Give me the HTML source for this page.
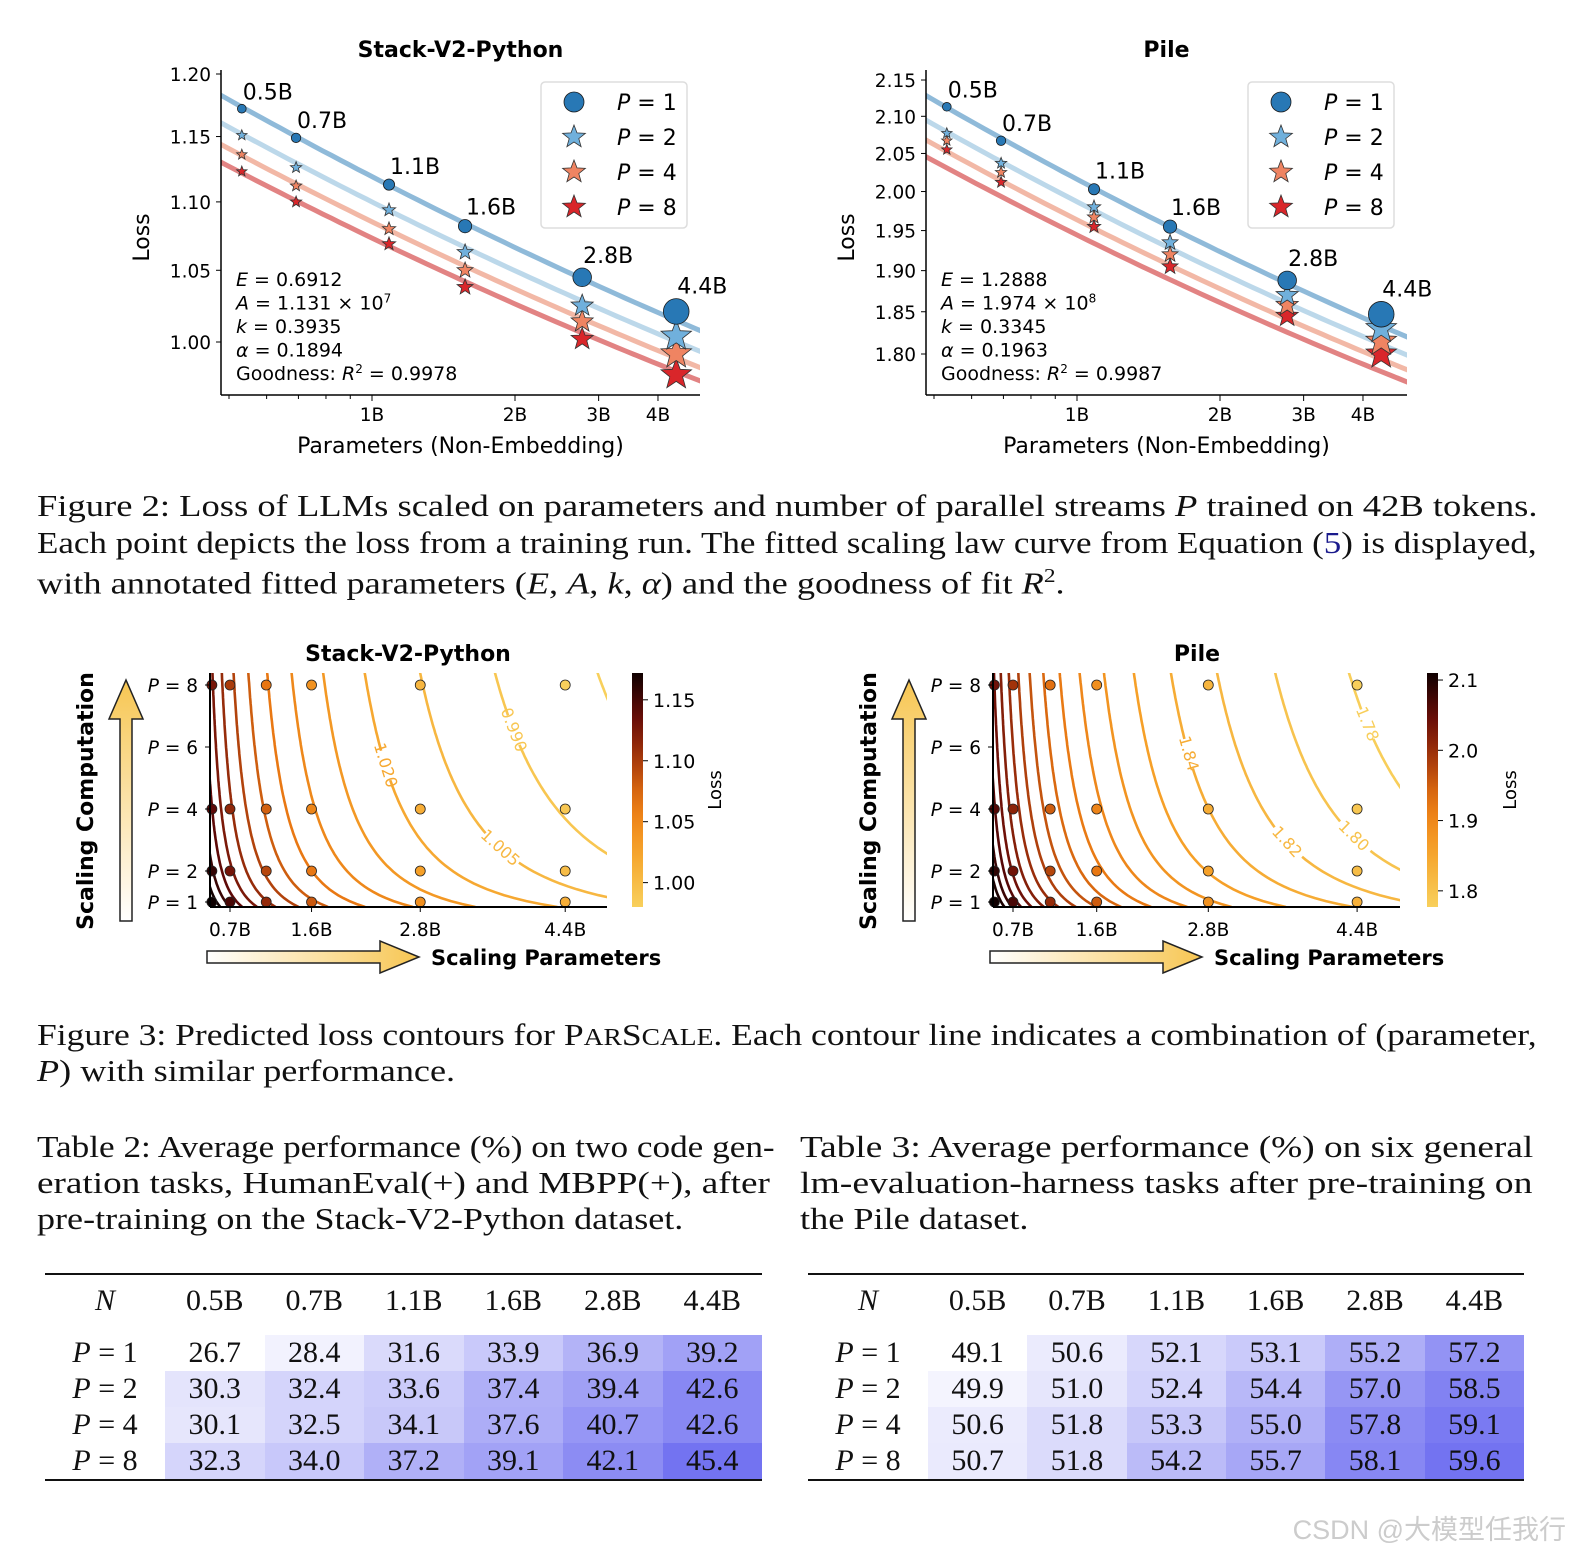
<!DOCTYPE html>
<html><head><meta charset="utf-8">
<style>
body{margin:0;background:#fff;width:1584px;height:1555px;overflow:hidden;position:relative;font-family:"Liberation Serif",serif;}
.cap{position:absolute;left:37px;font-size:31px;white-space:nowrap;transform-origin:0 0;color:#111;line-height:1;}
.cap i{font-style:italic}
table{position:absolute;border-collapse:collapse;font-family:"Liberation Serif",serif;font-size:30px;color:#111;}
td,th{height:36px;padding:0;text-align:center;font-weight:normal;}
th{height:52px}
svg text{font-family:"DejaVu Sans",sans-serif;}
.wm{position:absolute;right:18px;bottom:8px;font-family:"Liberation Sans","Noto Sans CJK SC",sans-serif;font-size:27px;color:#ccc;}
</style></head><body>
<svg id="svg" width="1584" height="1555" style="position:absolute;left:0;top:0"></svg>

<div class="cap fit" data-w="1500" style="top:490px">Figure 2: Loss of LLMs scaled on parameters and number of parallel streams <i>P</i> trained on 42B tokens.</div>
<div class="cap fit" data-w="1500" style="top:527px">Each point depicts the loss from a training run. The fitted scaling law curve from Equation (<span style="color:#1a1a8c">5</span>) is displayed,</div>
<div class="cap fit" data-w="1028" style="top:566px">with annotated fitted parameters (<i>E</i>, <i>A</i>, <i>k</i>, <i>α</i>) and the goodness of fit <i>R</i><sup style="font-size:20px">2</sup>.</div>

<div class="cap fit" data-w="1500" style="top:1019px">Figure 3: Predicted loss contours for P<span style="font-size:24px">AR</span>S<span style="font-size:24px">CALE</span>. Each contour line indicates a combination of (parameter,</div>
<div class="cap fit" data-w="418" style="top:1055px"><i>P</i>) with similar performance.</div>

<div class="cap fit" data-w="738" style="top:1131px">Table 2: Average performance (%) on two code gen-</div>
<div class="cap fit" data-w="733" style="top:1167px">eration tasks, HumanEval(+) and MBPP(+), after</div>
<div class="cap fit" data-w="646" style="top:1203px">pre-training on the Stack-V2-Python dataset.</div>
<div class="cap fit" data-w="733" style="top:1131px;left:800px">Table 3: Average performance (%) on six general</div>
<div class="cap fit" data-w="733" style="top:1167px;left:800px">lm-evaluation-harness tasks after pre-training on</div>
<div class="cap fit" data-w="228" style="top:1203px;left:800px">the Pile dataset.</div>

<table id="t2" style="left:45px;top:1273px;width:717px"></table>
<table id="t3" style="left:808px;top:1273px;width:716px"></table>

<div class="wm">CSDN @大模型任我行</div>

<script>
// ---------- data ----------
const sizeLabels = ["0.5B","0.7B","1.1B","1.6B","2.8B","4.4B"];
const paramsB = [0.532,0.692,1.086,1.57,2.77,4.37];
const pValues = [1,2,4,8];
const stackP1 = [1.172,1.149,1.113,1.082,1.045,1.021];
const stackP2 = [1.151,1.126,1.094,1.063,1.025,1.004];
const stackP4 = [1.136,1.112,1.080,1.050,1.014,0.992];
const stackP8 = [1.123,1.100,1.069,1.038,1.002,0.978];
const pileP1 = [2.113,2.067,2.003,1.955,1.888,1.847];
const pileP2 = [2.077,2.037,1.980,1.935,1.870,1.830];
const pileP4 = [2.067,2.025,1.967,1.920,1.858,1.815];
const pileP8 = [2.055,2.012,1.955,1.905,1.845,1.800];
const stackFit = {E:0.6912,A:1.131e7,k:0.3935,a:0.1894};
const pileFit = {E:1.2888,A:1.974e8,k:0.3345,a:0.1963};
const stackYTicks = [1.00,1.05,1.10,1.15,1.20];
const pileYTicks = [1.80,1.85,1.90,1.95,2.00,2.05,2.10,2.15];
const xTickVals = [1,2,3,4];
const xTickLabels = ["1B","2B","3B","4B"];
const contourN = [0.5,0.7,1.1,1.6,2.8,4.4];
const contourP = [1,2,4,8];
const contourXTicks = [0.7,1.6,2.8,4.4];
const contourXLabels = ["0.7B","1.6B","2.8B","4.4B"];
const stackLevels = [0.975,0.990,1.005,1.020,1.035,1.050,1.065,1.080,1.095,1.110,1.125,1.140,1.155,1.170];
const pileLevels = [1.78,1.80,1.82,1.84,1.86,1.88,1.90,1.92,1.94,1.96,1.98,2.00,2.02,2.04,2.06,2.08,2.10];
const stackCbTicks = [1.00,1.05,1.10,1.15];
const pileCbTicks = [1.8,1.9,2.0,2.1];
const t2Rows = [[26.7,28.4,31.6,33.9,36.9,39.2],[30.3,32.4,33.6,37.4,39.4,42.6],[30.1,32.5,34.1,37.6,40.7,42.6],[32.3,34.0,37.2,39.1,42.1,45.4]];
const t3Rows = [[49.1,50.6,52.1,53.1,55.2,57.2],[49.9,51.0,52.4,54.4,57.0,58.5],[50.6,51.8,53.3,55.0,57.8,59.1],[50.7,51.8,54.2,55.7,58.1,59.6]];

const NS="http://www.w3.org/2000/svg";
const svg=document.getElementById('svg');
function el(tag,attrs,parent){const e=document.createElementNS(NS,tag);for(const k in attrs)e.setAttribute(k,attrs[k]);(parent||svg).appendChild(e);return e;}
function txt(x,y,s,attrs,parent){const e=el('text',Object.assign({x:x,y:y},attrs||{}),parent);e.innerHTML=s;return e;}
function fitLoss(f,Nb,P){return Math.pow(f.A/(Nb*1e9*(f.k*Math.log(P)+1)),f.a)+f.E;}
function starPts(cx,cy,r){let p=[];for(let i=0;i<10;i++){const rr=i%2?r*0.42:r;const a=-Math.PI/2+i*Math.PI/5;p.push((cx+rr*Math.cos(a)).toFixed(1)+','+(cy+rr*Math.sin(a)).toFixed(1));}return p.join(' ');}

// ---------- scaling-law charts ----------
function lawChart(o){
  const g=el('g',{});
  
  
  const xs=v=>o.x1B+Math.log10(v)*475;
  const ys=v=>o.yBot-Math.log(v/o.yMin)*o.yk;
  const L=o.left,R=o.right,T=o.top,B=o.bottom;
  const clip=el('clipPath',{id:o.id+'clip'},g);el('rect',{x:L,y:T,width:R-L,height:B-T},clip);
  const lineCols=['#8fbad9','#bcd8ea','#f2b8a6','#e28383'];
  pValues.forEach((P,pi)=>{
    let d='';for(let i=0;i<=60;i++){const n=Math.pow(10,Math.log10(0.42)+i/60*(Math.log10(5.2)-Math.log10(0.42)));d+=(i?'L':'M')+xs(n).toFixed(1)+','+ys(fitLoss(o.fit,n,P)).toFixed(1);}
    const p=el('path',{d:d,stroke:lineCols[pi],'stroke-width':5,fill:'none','clip-path':'url(#'+o.id+'clip)'},g);
    
    
  });
  el('line',{x1:L,y1:T,x2:L,y2:B,stroke:'#000','stroke-width':1.5},g);
  el('line',{x1:L,y1:B,x2:R,y2:B,stroke:'#000','stroke-width':1.5},g);
  o.yTicks.forEach(v=>{const y=ys(v);el('line',{x1:L-5,y1:y,x2:L,y2:y,stroke:'#000'},g);
    const t=txt(L-10,y+7,v.toFixed(2),{'text-anchor':'end','font-size':18.5},g);
    
    });
  [0.5,0.6,0.7,0.8,0.9].forEach(v=>{const x=xs(v);if(x>L)el('line',{x1:x,y1:B,x2:x,y2:B+4,stroke:'#000'},g);});
  xTickVals.forEach((v,i)=>{const x=xs(v);el('line',{x1:x,y1:B,x2:x,y2:B+6,stroke:'#000'},g);
    const t=txt(x,B+26,xTickLabels[i],{'text-anchor':'middle','font-size':18.5},g);
    
    });
  const xl=txt((L+R)/2,B+58,'Parameters (Non-Embedding)',{'text-anchor':'middle','font-size':22},g);
  
  
  const yl=txt(0,0,'Loss',{'text-anchor':'middle','font-size':22,transform:'translate('+(L-72)+','+((T+B)/2+5)+') rotate(-90)'},g);
  
  
  const ti=txt((L+R)/2,57,o.title,{'text-anchor':'middle','font-size':22,'font-weight':'bold'},g);
  
  
  const series=[o.d1,o.d2,o.d4,o.d8];const cols=['#2878b5','#70b0dc','#ef8462','#d9262a'];
  [3,2,1,0].forEach(si=>{
    series[si].forEach((v,i)=>{const x=xs(paramsB[i]),y=ys(v),r=3.2+2.2*paramsB[i];
      let m;
      if(si===0)m=el('circle',{cx:x,cy:y,r:r,fill:cols[0],stroke:'#1a1a1a','stroke-width':0.8},g);
      else m=el('polygon',{points:starPts(x,y,r*1.25),fill:cols[si],stroke:'#333','stroke-width':0.8},g);
      
      
    });
  });
  function r2(n){return 3.2+2.2*n;}
  o.d1.forEach((v,i)=>{const x=xs(paramsB[i]),y=ys(v);
    const t=txt(x+1,y-r2(paramsB[i])-5,sizeLabels[i],{'font-size':22},g);
    
    });
  const lg=el('g',{},g);
  
  
  el('rect',{x:o.legX,y:82,width:146,height:146,rx:4,fill:'#fff',stroke:'#ddd','stroke-width':1.5},lg);
  pValues.forEach((P,i)=>{const y=102+i*35;
    if(i===0)el('circle',{cx:o.legX+33,cy:y,r:10,fill:cols[0],stroke:'#1a1a1a','stroke-width':0.8},lg);
    else el('polygon',{points:starPts(o.legX+33,y,12),fill:cols[i],stroke:'#333','stroke-width':0.8},lg);
    const t=txt(o.legX+76,y+8,'<tspan font-style="italic">P</tspan> = '+P,{'font-size':22},lg);
    
    });
  const pt=el('g',{'font-size':19},g);
  
  
  o.ptext.forEach((s,i)=>txt(L+15,286+i*23.5,s,{},pt));
}
lawChart({name:'stack-scaling-chart',id:'s1',title:'Stack-V2-Python',left:221,right:700,top:70,bottom:395,x1B:372,yBot:342,yMin:1.0,yk:1470,yTicks:stackYTicks,fit:stackFit,d1:stackP1,d2:stackP2,d4:stackP4,d8:stackP8,legX:541,
 ptext:['<tspan font-style="italic">E</tspan> = 0.6912','<tspan font-style="italic">A</tspan> = 1.131 × 10<tspan dy="-7" font-size="12">7</tspan>','<tspan font-style="italic">k</tspan> = 0.3935','<tspan font-style="italic">α</tspan> = 0.1894','Goodness: <tspan font-style="italic">R</tspan><tspan dy="-7" font-size="12">2</tspan><tspan dy="7"> = 0.9978</tspan>']});
lawChart({name:'pile-scaling-chart',id:'s2',title:'Pile',left:926,right:1407,top:70,bottom:395,x1B:1077,yBot:354,yMin:1.8,yk:1542,yTicks:pileYTicks,fit:pileFit,d1:pileP1,d2:pileP2,d4:pileP4,d8:pileP8,legX:1248,
 ptext:['<tspan font-style="italic">E</tspan> = 1.2888','<tspan font-style="italic">A</tspan> = 1.974 × 10<tspan dy="-7" font-size="12">8</tspan>','<tspan font-style="italic">k</tspan> = 0.3345','<tspan font-style="italic">α</tspan> = 0.1963','Goodness: <tspan font-style="italic">R</tspan><tspan dy="-7" font-size="12">2</tspan><tspan dy="7"> = 0.9987</tspan>']});

// ---------- contour charts ----------
const cstops=[[0,[248,208,92]],[0.25,[246,160,40]],[0.45,[232,118,18]],[0.65,[160,50,10]],[0.82,[100,10,8]],[1,[15,0,0]]];
function cmap(t){t=Math.max(0,Math.min(1,t));for(let i=1;i<cstops.length;i++){if(t<=cstops[i][0]){const a=cstops[i-1],b=cstops[i],u=(t-a[0])/(b[0]-a[0]);return 'rgb('+a[1].map((c,j)=>Math.round(c+(b[1][j]-c)*u)).join(',')+')';}}return 'rgb(15,0,0)';}
function contourChart(o){
  const g=el('g',{});
  
  
  const L=o.left,R=o.right,T=673,B=907;
  const xs=n=>o.x07+(n-0.7)*o.pxB;
  const ys=P=>902-(P-1)*31;
  const vmin=o.vmin,vmax=o.vmax;
  const clip=el('clipPath',{id:o.id+'clip'},g);el('rect',{x:L,y:T,width:R-L,height:B-T},clip);
  const cg=el('g',{'clip-path':'url(#'+o.id+'clip)'},g);
  const f=o.fit;
  o.levels.forEach(c=>{
    let d='';let pts=[];
    for(let i=0;i<=80;i++){const P=0.84+i/80*(8.45-0.84);const N=f.A/(Math.pow(c-f.E,1/f.a)*(f.k*Math.log(P)+1))/1e9;pts.push([xs(N),ys(P)]);}
    const lab=o.labels[c.toFixed(3)];
    let gapA=-1,gapB=-1;
    if(lab){gapA=lab[0]-5;gapB=lab[0]+5;}
    let pen=false;
    pts.forEach((p,i)=>{if(i>gapA&&i<gapB){pen=false;return;}d+=(pen?'L':'M')+p[0].toFixed(1)+','+p[1].toFixed(1);pen=true;});
    const col=cmap((c-vmin)/(vmax-vmin));
    const p=el('path',{d:d,stroke:col,'stroke-width':2.6,fill:'none'},cg);
    
    
    if(lab){const i=lab[0];const a=pts[i-2],b=pts[i+2];let ang=Math.atan2(b[1]-a[1],b[0]-a[0])*180/Math.PI;if(ang<-90)ang+=180;if(ang>90)ang-=180;
      const t=txt(0,0,lab[1],{'text-anchor':'middle','font-size':16,fill:col,transform:'translate('+pts[i][0].toFixed(1)+','+pts[i][1].toFixed(1)+') rotate('+ang.toFixed(1)+') translate(0,5)'},g);
      
      }
  });
  contourP.forEach(P=>contourN.forEach(N=>{const v=fitLoss(f,N,P);
    const d=el('circle',{cx:xs(N),cy:ys(P),r:5,fill:cmap((v-vmin)/(vmax-vmin)),stroke:'#222','stroke-width':0.8},g);
    
    }));
  el('line',{x1:L,y1:T,x2:L,y2:B,stroke:'#000','stroke-width':2},g);
  el('line',{x1:L,y1:B,x2:R,y2:B,stroke:'#000','stroke-width':2},g);
  contourP.concat([6]).forEach(P=>{const y=ys(P);el('line',{x1:L-5,y1:y,x2:L,y2:y,stroke:'#000'},g);
    const t=txt(L-12,y+7,'<tspan font-style="italic">P</tspan> = '+P,{'text-anchor':'end','font-size':18.5},g);
    
    });
  contourXTicks.forEach((n,i)=>{const x=xs(n);el('line',{x1:x,y1:B,x2:x,y2:B+5,stroke:'#000'},g);
    const t=txt(x,B+29,contourXLabels[i],{'text-anchor':'middle','font-size':18.5},g);
    
    });
  const ti=txt(o.titleX,661,o.title,{'text-anchor':'middle','font-size':22,'font-weight':'bold'},g);
  
  
  const gid=o.id+'cb';const lgd=el('linearGradient',{id:gid,x1:0,y1:1,x2:0,y2:0},g);
  for(let i=0;i<=10;i++)el('stop',{offset:i/10,'stop-color':cmap(i/10)},lgd);
  const cb=el('rect',{x:o.cbX,y:T,width:11,height:B-T,fill:'url(#'+gid+')'},g);
  
  
  const cy=v=>B-(v-vmin)/(vmax-vmin)*(B-T);
  o.cbTicks.forEach(v=>{const y=cy(v);el('line',{x1:o.cbX+11,y1:y,x2:o.cbX+16,y2:y,stroke:'#000'},g);
    const t=txt(o.cbX+21,y+7,v.toFixed(o.cbDec),{'font-size':19},g);
    
    });
  const cl=txt(0,0,'Loss',{'text-anchor':'middle','font-size':18,transform:'translate('+(o.cbX+89)+',790) rotate(-90)'},g);
  
  
  const ag=o.id+'ag',ah=o.id+'ah';
  const g1=el('linearGradient',{id:ag,x1:0,y1:1,x2:0,y2:0},g);el('stop',{offset:0,'stop-color':'#fff'},g1);el('stop',{offset:1,'stop-color':'#f7c652'},g1);
  const g2=el('linearGradient',{id:ah,x1:0,y1:0,x2:1,y2:0},g);el('stop',{offset:0,'stop-color':'#fff'},g2);el('stop',{offset:1,'stop-color':'#f7c652'},g2);
  const ax=o.arrowX;
  const va=el('polygon',{points:[[ax-6,921],[ax+6,921],[ax+6,719],[ax+17,719],[ax,680],[ax-17,719],[ax-6,719]].join(' '),fill:'url(#'+ag+')',stroke:'#222','stroke-width':1.5},g);
  
  
  const vt=txt(0,0,'Scaling Computation',{'text-anchor':'middle','font-size':22,'font-weight':'bold',transform:'translate('+(ax-33)+',801) rotate(-90)'},g);
  
  
  const hx=o.hArrowX;
  const ha=el('polygon',{points:[[hx,951],[hx+173,951],[hx+173,941],[hx+212,957],[hx+173,973],[hx+173,963],[hx,963]].join(' '),fill:'url(#'+ah+')',stroke:'#222','stroke-width':1.5},g);
  
  
  const ht=txt(hx+224,965,'Scaling Parameters',{'font-size':21,'font-weight':'bold'},g);
  
  
}
contourChart({name:'stack-contour-chart',id:'c1',title:'Stack-V2-Python',titleX:408,left:210,right:607,x07:230,pxB:90.6,fit:stackFit,levels:stackLevels,vmin:0.98,vmax:1.172,cbTicks:stackCbTicks,cbDec:2,cbX:632,arrowX:126,hArrowX:207,
 labels:{'1.020':[48,'1.020'],'0.990':[60,'0.990'],'1.005':[20,'1.005']}});
contourChart({name:'pile-contour-chart',id:'c2',title:'Pile',titleX:1197,left:993,right:1400,x07:1013,pxB:93,fit:pileFit,levels:pileLevels,vmin:1.777,vmax:2.11,cbTicks:pileCbTicks,cbDec:1,cbX:1427,arrowX:909,hArrowX:990,
 labels:{'1.840':[52,'1.84'],'1.820':[22,'1.82'],'1.800':[24,'1.80'],'1.780':[62,'1.78']}});

// ---------- tables ----------
function buildTable(id,rows){
  const t=document.getElementById(id);
  let all=rows.flat(),mn=Math.min(...all),mx=Math.max(...all);
  let h='<tr style="border-top:2.5px solid #111;border-bottom:2px solid #111"><th style="width:120px"><i>N</i></th>'+sizeLabels.map(s=>'<th>'+s+'</th>').join('')+'</tr>';
  rows.forEach((r,ri)=>{
    h+='<tr'+(ri===rows.length-1?' style="border-bottom:2.5px solid #111"':'')+'><td><i>P</i> = '+pValues[ri]+'</td>'+r.map(v=>{const u=(v-mn)/(mx-mn);const c=[255-u*140,255-u*140,255-u*14].map(Math.round);
      return '<td style="background:'+(u<0.02?'#fff':'rgb('+c.join(',')+')')+'">'+v.toFixed(1)+'</td>';}).join('')+'</tr>';
  });
  h=h.replace('<tr><td','<tr style="border-top:8px solid #fff"><td');
  t.innerHTML=h;
  t.querySelectorAll('td').forEach(td=>{});
}
buildTable('t2',t2Rows);
buildTable('t3',t3Rows);

document.querySelectorAll('.fit').forEach(d=>{const w=d.scrollWidth;const tw=+d.dataset.w;d.style.transform='scaleX('+(tw/w)+')';});
</script>
</body></html>
